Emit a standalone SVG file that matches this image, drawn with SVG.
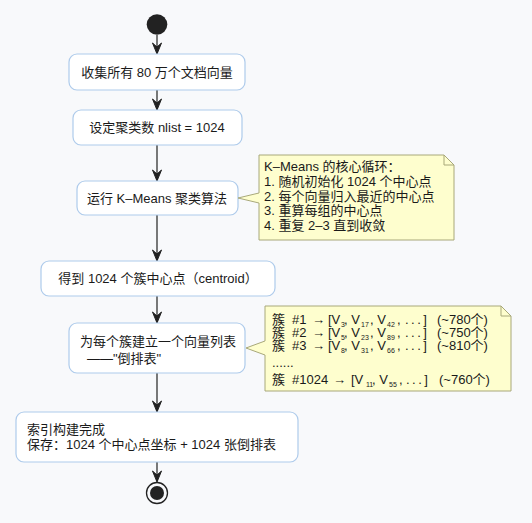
<svg xmlns="http://www.w3.org/2000/svg" width="532" height="523" viewBox="0 0 532 523">
<style>
text{font-family:"Liberation Sans","Noto Sans CJK SC",sans-serif;font-size:13px;fill:#1a1a1a}
.node rect{fill:#ffffff;stroke:#aecbeb;stroke-width:1.2}
.c{text-anchor:middle}
.note path.body{fill:#fefece;stroke:#a8a87a;stroke-width:1}
.note path.fold{fill:none;stroke:#a8a87a;stroke-width:1}
.edge line{stroke:#222;stroke-width:1.2}
.edge polygon{fill:#222;stroke:#222;stroke-width:1}
.sub{font-size:7px}
.dots{letter-spacing:2.5px}
</style>
<rect x="0" y="0" width="532" height="523" fill="#f8f9fb"/>
<g id="start"><circle cx="157" cy="24.5" r="10.3" fill="#222"/></g>
<g id="connectors" class="edge">
<line x1="157" y1="35" x2="157" y2="53"/><polygon points="152.5,43 157,54 161.5,43 157,47"/>
<line x1="157" y1="90" x2="157" y2="109"/><polygon points="152.5,99 157,110 161.5,99 157,103"/>
<line x1="157" y1="145" x2="157" y2="180"/><polygon points="152.5,170 157,181 161.5,170 157,174"/>
<line x1="157" y1="215" x2="157" y2="260"/><polygon points="152.5,250 157,261 161.5,250 157,254"/>
<line x1="157" y1="296" x2="157" y2="322"/><polygon points="152.5,312 157,323 161.5,312 157,316"/>
<line x1="157" y1="373" x2="157" y2="411"/><polygon points="152.5,401 157,412 161.5,401 157,405"/>
<line x1="157" y1="462" x2="157" y2="481"/><polygon points="152.5,471 157,482 161.5,471 157,475"/>
</g>
<g id="n1" class="node"><rect x="69" y="54" width="176" height="36" rx="8"/><text class="c" x="157" y="77">收集所有 80 万个文档向量</text></g>
<g id="n2" class="node"><rect x="73" y="110" width="169" height="35" rx="8"/><text class="c" x="157" y="132">设定聚类数 nlist = 1024</text></g>
<g id="n3" class="node"><rect x="77" y="181" width="161" height="34" rx="8"/><text class="c" x="157" y="203">运行 K–Means 聚类算法</text></g>
<g id="n4" class="node"><rect x="41" y="261" width="234" height="35" rx="8"/><text class="c" x="158" y="283">得到 1024 个簇中心点（centroid）</text></g>
<g id="n5" class="node"><rect x="69" y="323" width="176" height="50" rx="8"/><text x="80" y="346">为每个簇建立一个向量列表</text><text x="87" y="363">——"倒排表"</text></g>
<g id="n6" class="node"><rect x="16" y="412" width="282" height="50" rx="8"/><text x="27" y="434">索引构建完成</text><text x="27" y="449">保存：1024 个中心点坐标 + 1024 张倒排表</text></g>
<g id="end"><circle cx="157" cy="493" r="10.5" fill="none" stroke="#222" stroke-width="1.3"/><circle cx="157" cy="493" r="7" fill="#222"/></g>
<g id="note1" class="note">
<path class="body" d="M259,155 L444,155 L454,165 L454,240 L259,240 L259,203 L238,198 L259,193 Z"/>
<path class="fold" d="M444,155 L444,165 L454,165"/>
<text x="264" y="171">K–Means 的核心循环：</text>
<text x="264" y="186">1. 随机初始化 1024 个中心点</text>
<text x="264" y="200.5">2. 每个向量归入最近的中心点</text>
<text x="264" y="215">3. 重算每组的中心点</text>
<text x="264" y="229.5">4. 重复 2–3 直到收敛</text>
</g>
<g id="note2" class="note">
<path class="body" d="M265,306 L501,306 L511,316 L511,391 L265,391 L265,355 L246,348 L265,341 Z"/>
<path class="fold" d="M501,306 L501,316 L511,316"/>
<text x="272" y="324">簇<tspan x="292">#1</tspan><tspan x="312">→</tspan><tspan x="328">[V</tspan><tspan class="sub" x="341" dy="3">3</tspan><tspan x="344" dy="-3">, V</tspan><tspan class="sub" x="361" dy="3">17</tspan><tspan x="370" dy="-3">, V</tspan><tspan class="sub" x="387" dy="3">42</tspan><tspan x="397" dy="-3">,</tspan><tspan class="dots" x="405">...]</tspan><tspan x="437">(~780个)</tspan></text>
<text x="272" y="337">簇<tspan x="292">#2</tspan><tspan x="312">→</tspan><tspan x="328">[V</tspan><tspan class="sub" x="341" dy="3">5</tspan><tspan x="344" dy="-3">, V</tspan><tspan class="sub" x="361" dy="3">23</tspan><tspan x="370" dy="-3">, V</tspan><tspan class="sub" x="387" dy="3">89</tspan><tspan x="397" dy="-3">,</tspan><tspan class="dots" x="405">...]</tspan><tspan x="437">(~750个)</tspan></text>
<text x="272" y="350">簇<tspan x="292">#3</tspan><tspan x="312">→</tspan><tspan x="328">[V</tspan><tspan class="sub" x="341" dy="3">8</tspan><tspan x="344" dy="-3">, V</tspan><tspan class="sub" x="361" dy="3">31</tspan><tspan x="370" dy="-3">, V</tspan><tspan class="sub" x="387" dy="3">66</tspan><tspan x="397" dy="-3">,</tspan><tspan class="dots" x="405">...]</tspan><tspan x="437">(~810个)</tspan></text>
<text x="272" y="367">......</text>
<text x="272" y="384">簇<tspan x="292">#1024</tspan><tspan x="333">→</tspan><tspan x="351">[V</tspan><tspan class="sub" x="366" dy="3">11</tspan><tspan x="372" dy="-3">, V</tspan><tspan class="sub" x="389" dy="3">55</tspan><tspan x="399" dy="-3">,</tspan><tspan class="dots" x="406">...]</tspan><tspan x="439">(~760个)</tspan></text>
</g>
</svg>
